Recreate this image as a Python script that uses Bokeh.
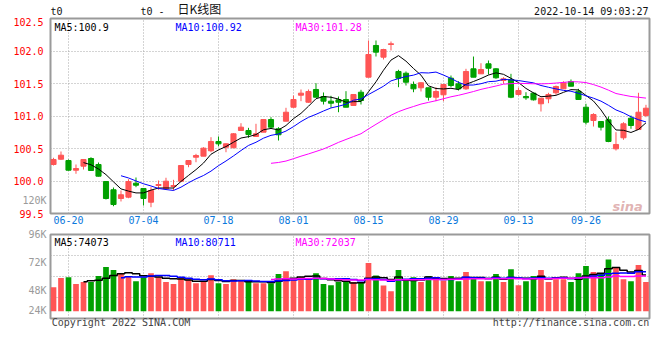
import numpy as np
import pandas as pd
from bokeh.plotting import figure
from bokeh.layouts import column
from bokeh.models import (Range1d, FixedTicker, Label, NumeralTickFormatter, ColumnDataSource,
                          LinearAxis, CustomJSTickFormatter)
from bokeh.embed import file_html
from bokeh.resources import INLINE

# ---------------- data ----------------
dates = ["06-16", "06-17", "06-20", "06-21", "06-22", "06-23", "06-24", "06-27", "06-28", "06-29", "06-30",
         "07-01", "07-04", "07-05", "07-06", "07-07", "07-08", "07-11", "07-12", "07-13", "07-14", "07-15",
         "07-18", "07-19", "07-20", "07-21", "07-22", "07-25", "07-26", "07-27", "07-28", "07-29",
         "08-01", "08-02", "08-03", "08-04", "08-05", "08-08", "08-09", "08-10", "08-11", "08-12",
         "08-15", "08-16", "08-17", "08-18", "08-19", "08-22", "08-23", "08-24", "08-25", "08-26",
         "08-29", "08-30", "08-31", "09-01", "09-02", "09-05", "09-06", "09-07", "09-08", "09-09",
         "09-13", "09-14", "09-15", "09-16", "09-19", "09-20", "09-21", "09-22", "09-23",
         "09-26", "09-27", "09-28", "09-29", "09-30", "10-10", "10-11", "10-12", "10-13"]

opens = [100.254, 100.335, 100.315, 100.166, 100.228, 100.346, 100.254, 99.992, 99.865, 99.731,
         99.751, 99.966, 99.885, 99.674, 99.931, 99.880, 99.915, 99.997, 100.254, 100.366,
         100.382, 100.465, 100.608, 100.520, 100.511, 100.777, 100.777, 100.685, 100.751, 100.946,
         100.803, 100.920, 101.135, 101.320, 101.212, 101.408, 101.300, 101.228, 101.249, 101.254,
         101.162, 101.366, 101.597, 102.085, 101.905, 102.100, 101.685, 101.658, 101.485, 101.434,
         101.434, 101.289, 101.326, 101.582, 101.495, 101.418, 101.726, 101.649, 101.803, 101.726,
         101.546, 101.557, 101.331, 101.300, 101.351, 101.188, 101.265, 101.357, 101.418, 101.531,
         101.382, 101.135, 100.931, 100.915, 100.942, 100.495, 100.665, 100.966, 100.792, 101.008]
highs = [100.357, 100.454, 100.331, 100.254, 100.331, 100.366, 100.285, 99.992, 99.900, 99.854,
         100.028, 100.054, 99.885, 99.905, 100.008, 100.050, 100.018, 100.238, 100.315, 100.418,
         100.520, 100.674, 100.685, 100.577, 100.736, 100.889, 100.818, 100.880, 100.946, 100.982,
         100.828, 101.126, 101.315, 101.408, 101.408, 101.505, 101.362, 101.311, 101.300, 101.382,
         101.331, 101.403, 102.162, 102.162, 102.034, 102.146, 101.711, 101.685, 101.531, 101.520,
         101.434, 101.443, 101.485, 101.623, 101.535, 101.726, 101.915, 101.812, 101.854, 101.735,
         101.597, 101.649, 101.434, 101.366, 101.362, 101.274, 101.357, 101.469, 101.535, 101.562,
         101.418, 101.188, 101.043, 100.915, 100.992, 100.751, 100.905, 101.008, 101.357, 101.172]
lows = [100.238, 100.326, 100.162, 100.111, 100.177, 100.154, 100.069, 99.715, 99.612, 99.685,
        99.735, 99.905, 99.623, 99.597, 99.865, 99.865, 99.854, 99.982, 100.212, 100.289,
        100.382, 100.443, 100.535, 100.443, 100.511, 100.777, 100.665, 100.685, 100.751, 100.803,
        100.623, 100.920, 101.126, 101.228, 101.203, 101.289, 101.177, 101.126, 101.058, 101.135,
        101.162, 101.177, 101.597, 101.915, 101.869, 102.008, 101.443, 101.469, 101.366, 101.377,
        101.238, 101.228, 101.228, 101.443, 101.392, 101.403, 101.597, 101.649, 101.638, 101.572,
        101.495, 101.274, 101.315, 101.249, 101.238, 101.069, 101.197, 101.326, 101.418, 101.458,
        101.254, 100.869, 100.838, 100.777, 100.597, 100.469, 100.634, 100.803, 100.792, 100.982]
closes = [100.331, 100.397, 100.166, 100.192, 100.331, 100.162, 100.074, 99.731, 99.638, 99.788,
          99.992, 99.935, 99.731, 99.854, 99.946, 99.997, 99.931, 100.238, 100.315, 100.392,
          100.505, 100.608, 100.572, 100.572, 100.726, 100.828, 100.715, 100.726, 100.946, 100.828,
          100.711, 101.058, 101.254, 101.351, 101.377, 101.289, 101.228, 101.197, 101.212, 101.135,
          101.331, 101.238, 101.946, 101.982, 102.023, 102.111, 101.582, 101.520, 101.418, 101.511,
          101.289, 101.377, 101.485, 101.469, 101.418, 101.685, 101.597, 101.715, 101.735, 101.588,
          101.572, 101.289, 101.392, 101.280, 101.249, 101.274, 101.331, 101.454, 101.511, 101.458,
          101.254, 100.905, 101.023, 100.828, 100.608, 100.562, 100.880, 100.854, 101.058, 101.120]
volumes = [49200, 67700, 69700, 55400, 59500, 59500, 71800, 90200, 84100, 76700,
           71800, 61500, 69700, 77900, 69700, 59500, 55400, 67700, 65600, 57400,
           60900, 73800, 57400, 55400, 65600, 62300, 59500, 57400, 57400, 57400,
           75900, 82000, 65600, 69700, 65600, 77900, 55400, 53300, 59500, 59500,
           59500, 59500, 98400, 73200, 52700, 41000, 84100, 65600, 69700, 59500,
           71800, 69700, 62900, 71800, 61500, 80000, 69700, 61500, 61500, 75900,
           59500, 86100, 53300, 61500, 71800, 84100, 59500, 65600, 65600, 59500,
           77900, 92300, 80000, 77900, 106000, 90200, 65600, 61500, 94300, 59500]

price_ticks = [99.5, 100.0, 100.5, 101.0, 101.5, 102.0, 102.5]
date_ticks = ["06-20", "07-04", "07-18", "08-01", "08-15", "08-29", "09-13", "09-26"]
vol_tick_labels = ["120K", "96K", "72K", "48K", "24K"]
price_legend = ["MA5:100.9", "MA10:100.92", "MA30:101.28"]
vol_legend = ["MA5:74073", "MA10:80711", "MA30:72037"]
title_code = "t0"
title_text = "日K线图"
timestamp = "2022-10-14 09:03:27"
footer_texts = ["Copyright 2022 SINA.COM", "http://finance.sina.com.cn"]

# ---------------- styles ----------------
FONT = "DejaVu Sans Mono"
RED = "#ff5555"
GREEN = "#00a000"
GRID = "#a8a8a8"
BORDER = "#9a9a9a"
GRAYTXT = "#9a9a9a"
MA_COLORS = ["black", "#0000ff", "#ff00ff"]
LEFT, FW, RIGHT = 50, 599, 9

N = len(dates)
x = np.arange(N)
o = np.array(opens); h = np.array(highs); l = np.array(lows); c = np.array(closes)
colors = [RED if cc >= oo else GREEN for oo, cc in zip(o, c)]
src = ColumnDataSource(dict(x=x, high=h, low=l, top=np.maximum(o, c), bottom=np.minimum(o, c),
                            color=colors, vol=np.array(volumes)))
cs = pd.Series(closes)
vs = pd.Series(volumes, dtype=float)
tick_idx = [dates.index(d) for d in date_ticks]

xr = Range1d(-0.4, N - 0.53)


def style_axis(ax, color):
    ax.major_label_text_color = color
    ax.major_label_text_font = FONT
    ax.major_label_text_font_size = "10px"
    ax.major_tick_out = 0
    ax.major_tick_in = 0
    ax.minor_tick_out = 0
    ax.minor_tick_in = 0
    ax.axis_line_color = None


def style_grid(g):
    g.grid_line_color = GRID
    g.grid_line_dash = "1 2"
    g.grid_line_width = 1


def lab(p, text, xs, ys, color="#111111", align="left", font=FONT, size="10px", baseline="alphabetic", **kw):
    p.add_layout(Label(x=xs, y=ys, x_units="screen", y_units="screen", text=text, text_font=font,
                       text_font_size=size, text_color=color, text_align=align,
                       text_baseline=baseline, **kw))


# ---------------- header ----------------
head = figure(frame_width=FW, frame_height=17, x_range=Range1d(0, FW), y_range=Range1d(0, 17),
              output_backend="svg", toolbar_location=None, x_axis_location=None, y_axis_location=None,
              min_border_left=LEFT, min_border_right=RIGHT, min_border_top=0, min_border_bottom=0,
              background_fill_color="white", border_fill_color="white")
head.outline_line_color = None
head.xgrid.visible = False
head.ygrid.visible = False
lab(head, title_code, 0, 0.5, baseline="bottom")
lab(head, title_code + " -", 90, 0.5, baseline="bottom")
lab(head, title_text, 127, 0.5, font="Noto Sans CJK SC", size="12px", baseline="bottom")
lab(head, timestamp, 598, 0.5, align="right", baseline="bottom")

# ---------------- price panel ----------------
pA = figure(frame_width=FW, frame_height=195, x_range=xr, y_range=Range1d(99.5, 102.5),
            output_backend="svg", toolbar_location=None, y_axis_location=None,
            min_border_left=LEFT, min_border_right=RIGHT, min_border_top=1, min_border_bottom=14,
            background_fill_color="white", border_fill_color="white")
pA.outline_line_color = BORDER
pA.outline_line_width = 2

# inner left axis: the volume scale label sina prints beside the price panel
va = LinearAxis(ticker=FixedTicker(ticks=[99.7]),
                formatter=CustomJSTickFormatter(code="return '%s'" % vol_tick_labels[0]))
style_axis(va, GRAYTXT)
va.major_label_standoff = 4
pA.add_layout(va, "left")
# outer left axis: price
pa = LinearAxis(ticker=FixedTicker(ticks=price_ticks), formatter=NumeralTickFormatter(format="0.0"))
style_axis(pa, "#ff0000")
pa.major_label_standoff = -24
pA.add_layout(pa, "left")

xa = pA.xaxis[0]
xa.ticker = FixedTicker(ticks=tick_idx)
xa.major_label_overrides = {int(i): d for i, d in zip(tick_idx, date_ticks)}
style_axis(xa, "#0a78dc")
xa.major_label_standoff = 2

pA.xgrid[0].ticker = FixedTicker(ticks=tick_idx)
pA.ygrid[0].ticker = FixedTicker(ticks=price_ticks)
style_grid(pA.xgrid[0])
style_grid(pA.ygrid[0])

pA.segment(x0="x", y0="low", x1="x", y1="high", color="color", line_width=1, source=src)
pA.vbar(x="x", width=0.68, top="top", bottom="bottom", fill_color="color", line_color="color",
        line_width=1, source=src)
for n, col in zip((5, 10, 30), MA_COLORS):
    pA.line(x, cs.rolling(n).mean().values, line_color=col, line_width=1)

for txt, col, xs in zip(price_legend, MA_COLORS, (4, 125, 245)):
    lab(pA, txt, xs, 186.5, color=col)
lab(pA, "sina", 562, 7, color="#d9a0a0", font="DejaVu Sans", size="13px",
    text_font_style="bold italic", text_alpha=0.8)

# ---------------- volume panel ----------------
vlo, vhi = -15000, 157000
pB = figure(frame_width=FW, frame_height=84, x_range=xr, y_range=Range1d(vlo, vhi),
            output_backend="svg", toolbar_location=None,
            min_border_left=LEFT, min_border_right=RIGHT, min_border_top=7, min_border_bottom=14,
            background_fill_color="white", border_fill_color="white")
pB.outline_line_color = BORDER
pB.outline_line_width = 2

vy = pB.yaxis[0]
vol_label_values = [157000, 99800, 42400, 1400]
vy.ticker = FixedTicker(ticks=vol_label_values)
vy.major_label_overrides = {v: t for v, t in zip(vol_label_values, vol_tick_labels[1:])}
style_axis(vy, GRAYTXT)
vy.major_label_standoff = 4

# footer line printed under the volume panel
fx = pB.xaxis[0]
footer_pos = [9, 69]
fx.ticker = FixedTicker(ticks=footer_pos)
fx.major_label_overrides = {p: t for p, t in zip(footer_pos, footer_texts)}
style_axis(fx, "#444444")
fx.major_label_standoff = -2

pB.xgrid[0].ticker = FixedTicker(ticks=tick_idx)
pB.ygrid[0].ticker = FixedTicker(ticks=list(np.linspace(vlo, vhi, 5)[1:4]))
style_grid(pB.xgrid[0])
style_grid(pB.ygrid[0])

pB.vbar(x="x", width=0.76, top="vol", bottom=0, fill_color="color", line_color=None, source=src)
for n, col in zip((5, 10, 30), MA_COLORS):
    pB.step(x, vs.rolling(n).mean().values, mode="center", line_color=col, line_width=1.5)

for txt, col, xs in zip(vol_legend, MA_COLORS, (4, 125, 245)):
    lab(pB, txt, xs, 76, color=col)

layout = column(head, pA, pB, spacing=0)
open("out.html", "w").write(file_html(layout, INLINE))
